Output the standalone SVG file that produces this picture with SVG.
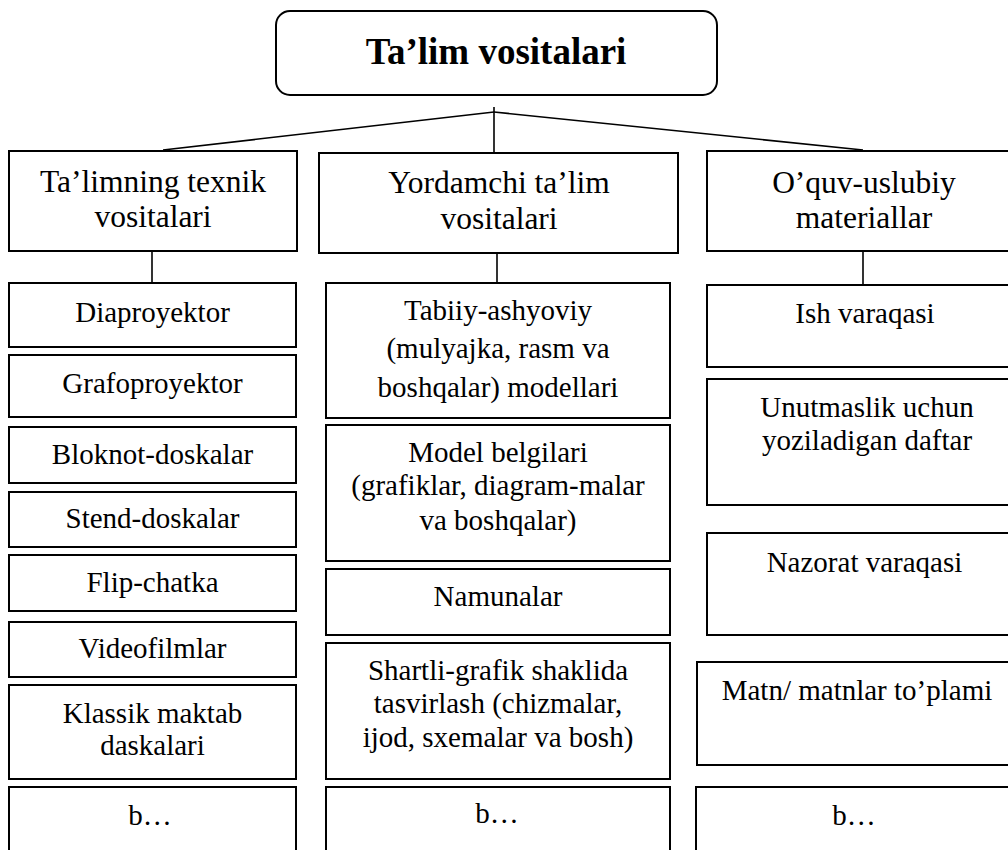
<svg xmlns="http://www.w3.org/2000/svg" width="1008" height="850" viewBox="0 0 1008 850">
<style>
.box{fill:#fff;stroke:#000;stroke-width:2}
.ln{stroke:#000;stroke-width:1.6;fill:none}
.t{font-size:37px;font-weight:bold}
.h{font-size:31.5px}
.s{font-size:29px}
</style>
<rect width="1008" height="850" fill="#fff"/>
<g id="connectors">
<line class="ln" x1="494" y1="107" x2="494" y2="153"/>
<line class="ln" x1="494" y1="112" x2="163" y2="150"/>
<line class="ln" x1="494" y1="112" x2="863" y2="150"/>
<line class="ln" x1="152" y1="251" x2="152" y2="283"/>
<line class="ln" x1="497" y1="253" x2="497" y2="283"/>
<line class="ln" x1="863" y1="251" x2="863" y2="285"/>
</g>
<g font-family="Liberation Serif, Times New Roman, Tinos, DejaVu Serif, serif" fill="#000" text-anchor="middle">
<g id="root"><rect class="box" x="276" y="11" width="441" height="84" rx="14"/><text class="t" x="496" y="64">Ta’lim vositalari</text></g>
<g id="h1"><rect class="box" x="9" y="151" width="288" height="100"/><text class="h" x="153" y="192">Ta’limning texnik</text><text class="h" x="153" y="227">vositalari</text></g>
<g id="h2"><rect class="box" x="319" y="153" width="359" height="100"/><text class="h" x="499" y="193">Yordamchi ta’lim</text><text class="h" x="499" y="229">vositalari</text></g>
<g id="h3"><rect class="box" x="707" y="151" width="310" height="100"/><text class="h" x="864" y="193">O’quv-uslubiy</text><text class="h" x="864" y="228">materiallar</text></g>

<g id="l1"><rect class="box" x="9" y="283" width="287" height="64"/><text class="s" x="152.5" y="322">Diaproyektor</text></g>
<g id="l2"><rect class="box" x="9" y="355" width="287" height="62"/><text class="s" x="152.5" y="393">Grafoproyektor</text></g>
<g id="l3"><rect class="box" x="9" y="427" width="287" height="56"/><text class="s" x="152.5" y="464">Bloknot-doskalar</text></g>
<g id="l4"><rect class="box" x="9" y="492" width="287" height="55"/><text class="s" x="152.5" y="528">Stend-doskalar</text></g>
<g id="l5"><rect class="box" x="9" y="555" width="287" height="56"/><text class="s" x="152.5" y="592">Flip-chatka</text></g>
<g id="l6"><rect class="box" x="9" y="622" width="287" height="55"/><text class="s" x="152.5" y="658">Videofilmlar</text></g>
<g id="l7"><rect class="box" x="9" y="685" width="287" height="94"/><text class="s" x="152.5" y="723">Klassik maktab</text><text class="s" x="152.5" y="755">daskalari</text></g>
<g id="l8"><rect class="box" x="9" y="787" width="287" height="75"/><text class="s" x="150" y="825">b…</text></g>

<g id="m1"><rect class="box" x="326" y="283" width="344" height="135"/><text class="s" x="498" y="320">Tabiiy-ashyoviy</text><text class="s" x="498" y="358">(mulyajka, rasm va</text><text class="s" x="498" y="397">boshqalar) modellari</text></g>
<g id="m2"><rect class="box" x="326" y="425" width="344" height="136"/><text class="s" x="498" y="462">Model belgilari</text><text class="s" x="498" y="495">(grafiklar, diagram-malar</text><text class="s" x="498" y="530">va boshqalar)</text></g>
<g id="m3"><rect class="box" x="326" y="569" width="344" height="66"/><text class="s" x="498" y="606">Namunalar</text></g>
<g id="m4"><rect class="box" x="326" y="643" width="344" height="136"/><text class="s" x="498" y="680">Shartli-grafik shaklida</text><text class="s" x="498" y="713">tasvirlash (chizmalar,</text><text class="s" x="498" y="747">ijod, sxemalar va bosh)</text></g>
<g id="m5"><rect class="box" x="326" y="787" width="344" height="75"/><text class="s" x="497" y="823">b…</text></g>

<g id="r1"><rect class="box" x="707" y="285" width="310" height="82"/><text class="s" x="865" y="323">Ish varaqasi</text></g>
<g id="r2"><rect class="box" x="707" y="379" width="310" height="126"/><text class="s" x="867" y="417">Unutmaslik uchun</text><text class="s" x="867" y="450">yoziladigan daftar</text></g>
<g id="r3"><rect class="box" x="707" y="533" width="310" height="102"/><text class="s" x="864.5" y="572">Nazorat varaqasi</text></g>
<g id="r4"><rect class="box" x="697" y="662" width="320" height="103"/><text class="s" x="857" y="700">Matn/ matnlar to’plami</text></g>
<g id="r5"><rect class="box" x="696" y="787" width="321" height="75"/><text class="s" x="854" y="825">b…</text></g>
</g>
</svg>
